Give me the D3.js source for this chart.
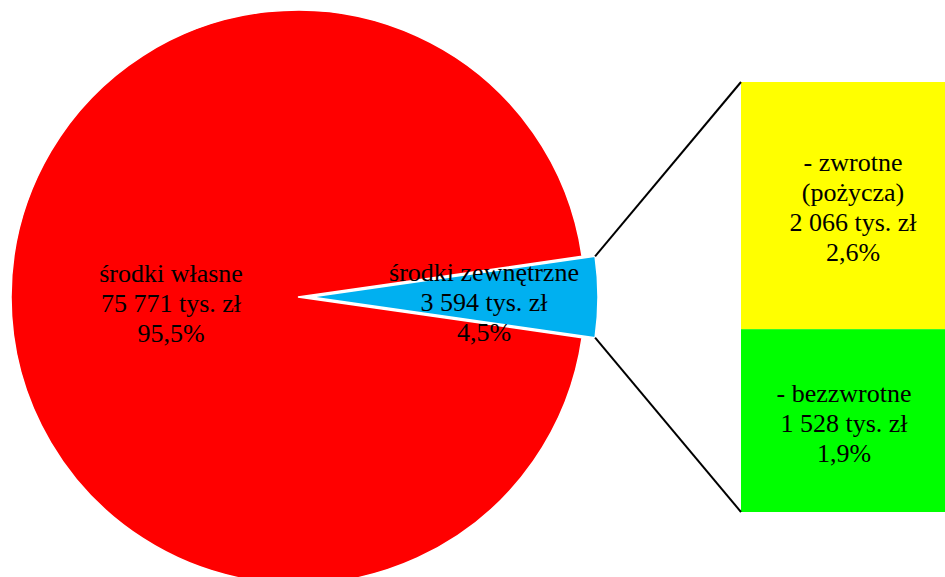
<!DOCTYPE html>
<html><head><meta charset="utf-8">
<script src="https://cdn.jsdelivr.net/npm/d3@7"></script>
<style>body{margin:0;background:#fff}svg{display:block}</style>
</head><body>
<svg id="c" width="945" height="577"></svg>
<script>
const pieCategories = ["środki własne", "środki zewnętrzne"];
const pieValues = [75771, 3594];
const pieLabels = [["środki własne", "75 771 tys. zł", "95,5%"], ["środki zewnętrzne", "3 594 tys. zł", "4,5%"]];
const pieColors = ["#FF0000", "#00B0F0"];
const barCategories = ["zwrotne (pożyczka)", "bezzwrotne"];
const barValues = [2066, 1528];
const barLabels = [[" - zwrotne", "(pożycza)", "2 066 tys. zł", "2,6%"], ["- bezzwrotne", "1 528 tys. zł", "1,9%"]];
const barColors = ["#FFFF00", "#00FF00"];

const svg = d3.select("#c");
const cx = 298, cy = 297, R = 287, explode = 13;
const total = d3.sum(pieValues);
const theta = 2 * Math.PI * pieValues[1] / total;
const start = Math.PI / 2 + theta / 2;
const pie = d3.pie().sort(null).startAngle(start).endAngle(start + 2 * Math.PI);
const arcs = pie(pieValues);
const arc = d3.arc().innerRadius(0).outerRadius(R);

const g = svg.append("g").attr("transform", `translate(${cx},${cy})`);
arcs.forEach((a, i) => {
  const mid = (a.startAngle + a.endAngle) / 2;
  const off = i === 1 ? explode : 0;
  const dx = off * Math.sin(mid), dy = -off * Math.cos(mid);
  g.append("path").attr("d", arc(a)).attr("transform", `translate(${dx},${dy})`)
    .attr("fill", pieColors[i]).attr("stroke", "#fff").attr("stroke-width", 1.5);
});

// bar of pie (stacked, first value on top)
const barX = 741, barW = 230;
const yScale = d3.scaleLinear().domain([0, d3.sum(barValues)]).range([512, 82]);
const topY = yScale(d3.sum(barValues));
let acc = 0;
barValues.forEach((v, i) => {
  const h = yScale(0) - yScale(v);
  svg.append("rect").attr("x", barX).attr("y", topY + acc).attr("width", barW)
    .attr("height", h).attr("fill", barColors[i]);
  acc += h;
});

// connector lines
const b = arcs[1];
const pt = ang => [cx + explode + R * Math.sin(ang), cy - R * Math.cos(ang)];
const pTop = pt(b.startAngle), pBot = pt(b.endAngle);
const lines = [[pTop, [barX, topY]], [pBot, [barX, yScale(0)]]];
lines.forEach(l => svg.append("line").attr("x1", l[0][0]).attr("y1", l[0][1])
  .attr("x2", l[1][0]).attr("y2", l[1][1]).attr("stroke", "#000").attr("stroke-width", 2));

// labels
function block(x, yc, lines) {
  const lh = 30;
  const t = svg.append("text").attr("text-anchor", "middle")
    .attr("font-family", "'Liberation Serif', 'Times New Roman', serif")
    .attr("font-size", 26).attr("fill", "#000");
  lines.forEach((s, k) => t.append("tspan").attr("x", x)
    .attr("y", yc + (k - (lines.length - 1) / 2) * lh).attr("dy", "0.35em").text(s));
}
block(171, 303, pieLabels[0]);
block(484, 302, pieLabels[1]);
block(853, 207, barLabels[0]);
block(844, 423, barLabels[1]);
</script>
</body></html>
